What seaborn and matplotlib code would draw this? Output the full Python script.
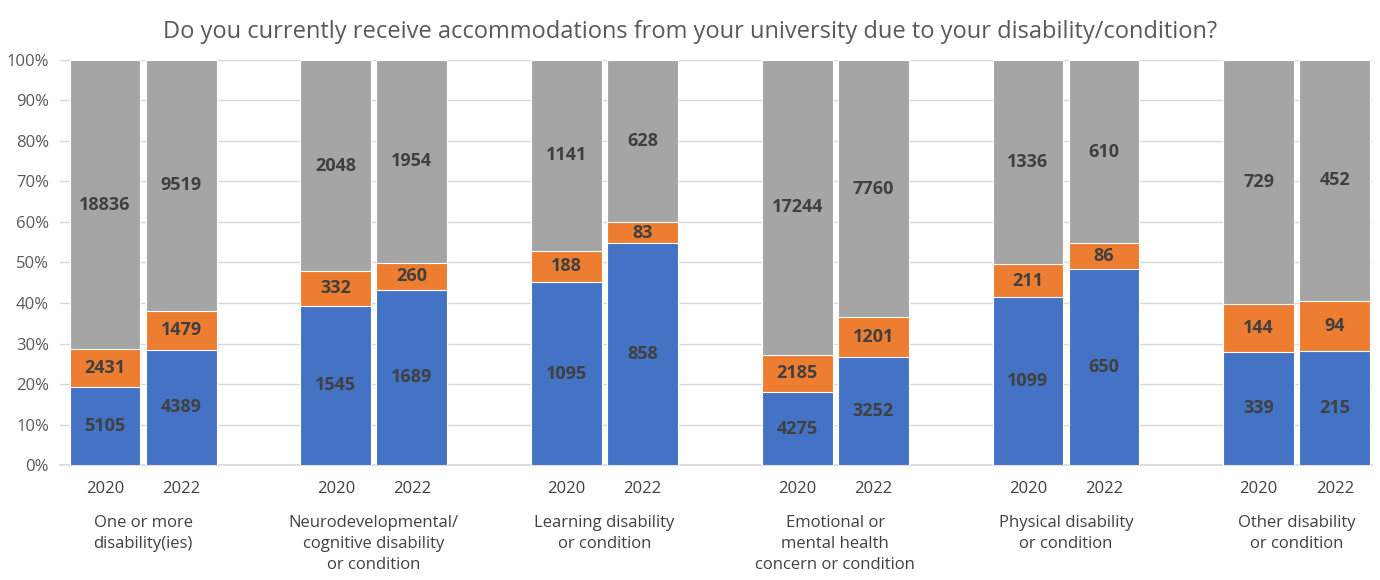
import numpy as np
import pandas as pd
import matplotlib
matplotlib.use("Agg")
import matplotlib.pyplot as plt
import seaborn as sns

categories = ["One or more\ndisability(ies)",
              "Neurodevelopmental/\ncognitive disability\nor condition",
              "Learning disability\nor condition",
              "Emotional or\nmental health\nconcern or condition",
              "Physical disability\nor condition",
              "Other disability\nor condition"]
years = ["2020", "2022"]
yes_2020 = [5105, 1545, 1095, 4275, 1099, 339]
yes_2022 = [4389, 1689, 858, 3252, 650, 215]
pending_2020 = [2431, 332, 188, 2185, 211, 144]
pending_2022 = [1479, 260, 83, 1201, 86, 94]
no_2020 = [18836, 2048, 1141, 17244, 1336, 729]
no_2022 = [9519, 1954, 628, 7760, 610, 452]

colors = ["#4472C4", "#ED7D31", "#A5A5A5"]

rows = []
for i, c in enumerate(categories):
    for y, ys, ps, ns in [("2020", yes_2020, pending_2020, no_2020),
                          ("2022", yes_2022, pending_2022, no_2022)]:
        tot = ys[i] + ps[i] + ns[i]
        rows.append(dict(cat=c, year=y, yes=ys[i], pend=ps[i], no=ns[i],
                         p_yes=ys[i] / tot, p_pend=ps[i] / tot, p_no=ns[i] / tot))
df = pd.DataFrame(rows)
df["c1"] = df["p_yes"]
df["c2"] = df["p_yes"] + df["p_pend"]
df["c3"] = df["c2"] + df["p_no"]

sns.set_theme(style="white")
plt.rcParams['font.family'] = ['Open Sans', 'DejaVu Sans']

fig = plt.figure(figsize=(13.8, 5.8), dpi=100)
ax = fig.add_axes([0.0435, 0.198, 0.9505, 0.699])

for col, color in zip(["c3", "c2", "c1"], [colors[2], colors[1], colors[0]]):
    sns.barplot(data=df, x="cat", y=col, hue="year", hue_order=years,
                palette=[color, color], saturation=1, width=0.66, gap=0.07,
                dodge=True, edgecolor="white", linewidth=0.8, ax=ax,
                legend=False, errorbar=None, zorder=3)

ax.set_xlim(-0.36, 5.325)
ax.set_ylim(0, 1)
ax.set_yticks(np.arange(0, 1.01, 0.1))
ax.set_yticklabels([f"{int(round(v*100))}%" for v in np.arange(0, 1.01, 0.1)],
                   fontsize=12, color="#595959")
ax.yaxis.grid(True, color="#D9D9D9", linewidth=1, zorder=0)
ax.set_axisbelow(True)
for s in ["left", "right", "top"]:
    ax.spines[s].set_visible(False)
ax.spines["bottom"].set_color("#D9D9D9")
ax.tick_params(axis="y", length=0, pad=8)
ax.set_xlabel("")
ax.set_ylabel("")
ax.set_xticks([])

off = 0.165
trans = matplotlib.transforms.blended_transform_factory(ax.transData, ax.transAxes)
for i, c in enumerate(categories):
    for j, y in enumerate(years):
        x = i + (-off if j == 0 else off)
        r = df[(df.cat == c) & (df.year == y)].iloc[0]
        for val, lo, hi in [(r.yes, 0, r.c1), (r.pend, r.c1, r.c2), (r.no, r.c2, r.c3)]:
            ax.text(x, (lo + hi) / 2, f"{val}", ha="center", va="center",
                    fontsize=13, fontweight="bold", color="#404040", zorder=5)
        ax.text(x, -0.058, y, transform=trans, ha="center", va="center",
                fontsize=12, color="#404040")
    ax.text(i, -0.122, c, transform=trans, ha="center", va="top",
            fontsize=12, color="#404040", linespacing=1.45)

fig.suptitle("Do you currently receive accommodations from your university due to your disability/condition?",
             x=0.5, y=0.965, fontsize=17, color="#595959")

fig.savefig("out.png", dpi=100, facecolor="white")
